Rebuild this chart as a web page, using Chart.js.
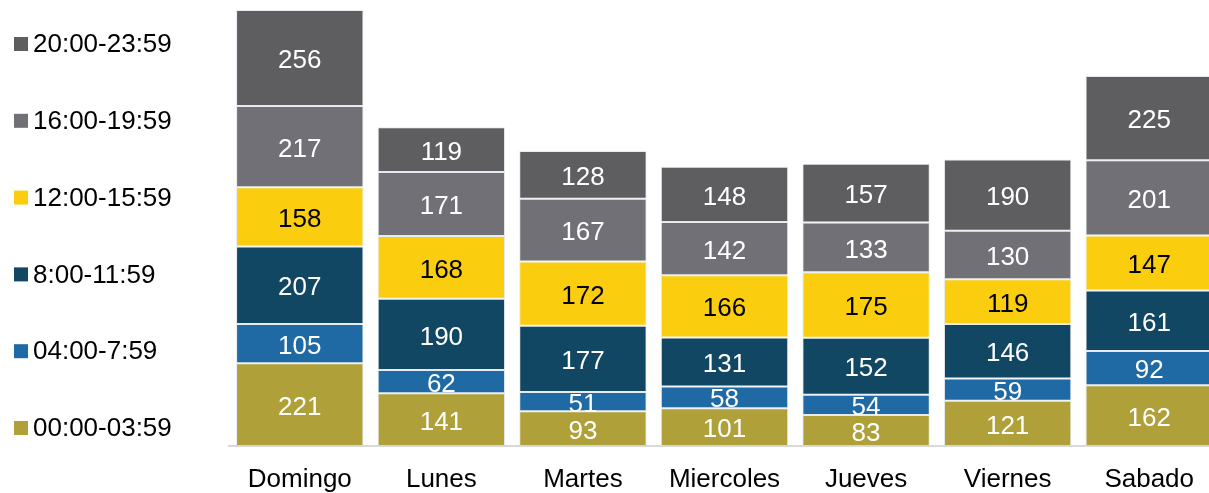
<!DOCTYPE html>
<html>
<head>
<meta charset="utf-8">
<script src="https://cdn.jsdelivr.net/npm/chart.js@4"></script>
<style>
  html, body { margin: 0; padding: 0; background: #fff; overflow: hidden; }
  #wrap { width: 1220px; height: 493px; }
</style>
</head>
<body>
<div id="wrap"><canvas id="myChart" width="1220" height="493"></canvas></div>
<script>
    // data
    const days = ['Domingo', 'Lunes', 'Martes', 'Miercoles', 'Jueves', 'Viernes', 'Sabado'];
    const seriesNames = ['00:00-03:59', '04:00-7:59', '8:00-11:59', '12:00-15:59', '16:00-19:59', '20:00-23:59'];
    const h00 = [221, 141, 93, 101, 83, 121, 162];
    const h04 = [105, 62, 51, 58, 54, 59, 92];
    const h08 = [207, 190, 177, 131, 152, 146, 161];
    const h12 = [158, 168, 172, 166, 175, 119, 147];
    const h16 = [217, 171, 167, 142, 133, 130, 201];
    const h20 = [256, 119, 128, 148, 157, 190, 225];

    const colors = ['#afa039', '#1f6aa5', '#124763', '#face0f', '#717076', '#5e5e60'];
    const labelColors = ['#fff', '#fff', '#fff', '#000', '#fff', '#fff'];
    const FONT = "'Liberation Sans', Arial, sans-serif";
    const FSIZE = 26;

    const values = [h00, h04, h08, h12, h16, h20];
    const data = {
      labels: days,
      datasets: values.map(function (v, i) {
        return {
          label: seriesNames[i],
          data: v,
          backgroundColor: colors[i],
          borderColor: 'rgba(200,210,222,0.45)',
          borderWidth: 1,
          borderSkipped: false,
          barPercentage: 0.9,
          categoryPercentage: 1.0
        };
      })
    };

    // value labels in the middle of each segment
    const segmentLabels = {
      id: 'segmentLabels',
      afterDatasetsDraw(chart) {
        const ctx = chart.ctx;
        ctx.save();
        ctx.font = FSIZE + 'px ' + FONT;
        ctx.textAlign = 'center';
        ctx.textBaseline = 'middle';
        chart.data.datasets.forEach(function (ds, i) {
          const meta = chart.getDatasetMeta(i);
          ctx.fillStyle = labelColors[i];
          meta.data.forEach(function (bar, j) {
            const y = (bar.y + bar.base) / 2 + 3;
            ctx.fillText(ds.data[j], bar.x, y);
          });
        });
        ctx.restore();
      }
    };

    // legend on the left, top item = last series
    const sideLegend = {
      id: 'sideLegend',
      afterDraw(chart) {
        const ctx = chart.ctx;
        const n = chart.data.datasets.length;
        ctx.save();
        ctx.font = FSIZE + 'px ' + FONT;
        ctx.textAlign = 'left';
        ctx.textBaseline = 'middle';
        for (let k = 0; k < n; k++) {
          const i = n - 1 - k;
          const cy = 44 + k * 76.8;
          ctx.fillStyle = colors[i];
          ctx.fillRect(14, cy - 7, 14, 14);
          ctx.fillStyle = '#000';
          ctx.fillText(chart.data.datasets[i].label, 33, cy + 1);
        }
        ctx.restore();
      }
    };

    const config = {
      type: 'bar',
      data,
      options: {
        responsive: false,
        animation: false,
        layout: { padding: { left: 229, right: 0, top: 0, bottom: 0 } },
        plugins: {
          legend: { display: false },
          tooltip: { enabled: false }
        },
        scales: {
          x: {
            stacked: true,
            grid: { display: false, drawTicks: false },
            border: { display: true, color: '#d9d9d9', width: 2 },
            ticks: {
              padding: 18,
              color: '#000',
              font: { family: FONT, size: FSIZE }
            },
            afterFit: function (scale) { scale.height = 47; }
          },
          y: {
            stacked: true,
            display: false,
            min: 0,
            max: 1191
          }
        }
      },
      plugins: [segmentLabels, sideLegend]
    };

    const myChart = new Chart(document.getElementById('myChart'), config);
</script>
</body>
</html>
